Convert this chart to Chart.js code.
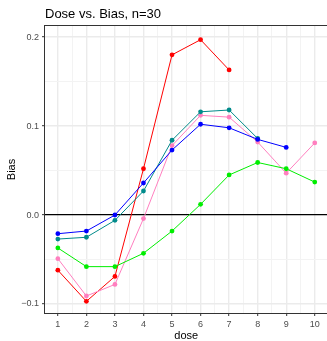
<!DOCTYPE html>
<html>
<head>
<meta charset="utf-8">
<script src="https://cdn.jsdelivr.net/npm/chart.js@4/dist/chart.umd.min.js"></script>
<style>
  html, body { margin: 0; padding: 0; background: #fff; overflow: hidden; }
  #wrap { width: 327px; height: 341px; overflow: hidden; position: relative; }
  canvas { display: block; }
</style>
</head>
<body>
<div id="wrap"><canvas id="c" width="330" height="341"></canvas></div>
<script>
// Dose levels and mean bias per dose for each group
const dose = [1, 2, 3, 4, 5, 6, 7, 8, 9, 10];
const redBias   = [-0.062, -0.097, -0.069, 0.052, 0.180, 0.197, 0.163];
const blueBias  = [-0.021, -0.018, 0.000, 0.036, 0.073, 0.102, 0.098, 0.085, 0.076];
const tealBias  = [-0.027, -0.025, -0.006, 0.027, 0.084, 0.116, 0.118, 0.086];
const pinkBias  = [-0.049, -0.091, -0.078, -0.004, 0.078, 0.112, 0.110, 0.082, 0.047, 0.081];
const greenBias = [-0.037, -0.058, -0.058, -0.043, -0.018, 0.012, 0.045, 0.059, 0.052, 0.037];

const xMajor = [1, 2, 3, 4, 5, 6, 7, 8, 9, 10];
const xMinor = [1.5, 2.5, 3.5, 4.5, 5.5, 6.5, 7.5, 8.5, 9.5];
const yMajor = [-0.1, 0.0, 0.1, 0.2];
const yMajorLabels = ['\u22120.1', '0.0', '0.1', '0.2'];
const yMinor = [-0.05, 0.05, 0.15];

const FONT = "'Liberation Sans', Arial, sans-serif";

function series(values) {
  return values.map((v, i) => ({ x: dose[i], y: v }));
}
function ds(values, color) {
  return {
    data: series(values),
    borderColor: color,
    backgroundColor: color,
    borderWidth: 1,
    pointRadius: 2.4,
    pointHoverRadius: 2.4,
    pointBorderWidth: 0,
    tension: 0
  };
}
const isMajor = (list, v) => list.some(m => Math.abs(m - v) < 1e-9);

// Panel border and plot title
const panelDecor = {
  id: 'panelDecor',
  afterDatasetsDraw(chart) {
    const { ctx, chartArea: a } = chart;
    ctx.save();
    ctx.strokeStyle = '#333333';
    ctx.lineWidth = 1;
    ctx.strokeRect(a.left - 0.5, a.top - 0.5, a.right - a.left + 1, a.bottom - a.top + 1);
    ctx.restore();
  },
  afterDraw(chart) {
    const { ctx, chartArea: a } = chart;
    ctx.save();
    ctx.fillStyle = '#000';
    ctx.font = '13px ' + FONT;
    ctx.textBaseline = 'alphabetic';
    ctx.textAlign = 'left';
    ctx.fillText('Dose vs. Bias, n=30', a.left, 18);
    ctx.restore();
  }
};

new Chart(document.getElementById('c'), {
  type: 'line',
  data: {
    datasets: [
      ds(greenBias, '#00ee00'),
      ds(blueBias, '#0000ff'),
      ds(tealBias, '#008b8b'),
      ds(pinkBias, '#ff7fbf'),
      ds(redBias, '#ff0000')
    ]
  },
  options: {
    responsive: false,
    animation: false,
    layout: { padding: { top: 26, left: 0, right: 1, bottom: 0 } },
    plugins: { legend: { display: false }, tooltip: { enabled: false }, title: { display: false } },
    scales: {
      x: {
        type: 'linear',
        min: 0.55,
        max: 10.45,
        afterBuildTicks: s => { s.ticks = xMajor.concat(xMinor).sort((a, b) => a - b).map(v => ({ value: v })); },
        afterFit: s => { s.height = 28; },
        ticks: {
          autoSkip: false,
          maxRotation: 0,
          padding: 3,
          color: '#4d4d4d',
          font: { family: FONT, size: 9 },
          callback: v => (isMajor(xMajor, v) ? String(v) : '')
        },
        grid: {
          drawTicks: true,
          tickLength: 3,
          tickWidth: 1,
          tickColor: c => (isMajor(xMajor, c.tick.value) ? '#333333' : 'rgba(0,0,0,0)'),
          color: c => (isMajor(xMajor, c.tick.value) ? '#ebebeb' : '#f3f3f3'),
          lineWidth: c => (isMajor(xMajor, c.tick.value) ? 1.4 : 1)
        },
        border: { display: false },
        title: {
          display: true,
          text: 'dose',
          color: '#000',
          font: { family: FONT, size: 11, lineHeight: 0.9 },
          padding: { top: 0, bottom: 0 }
        }
      },
      y: {
        type: 'linear',
        min: -0.1101,
        max: 0.2124,
        afterBuildTicks: s => { s.ticks = yMajor.concat(yMinor).sort((a, b) => a - b).map(v => ({ value: v })); },
        afterFit: s => { s.width = 45; },
        ticks: {
          autoSkip: false,
          padding: 3,
          color: '#4d4d4d',
          font: { family: FONT, size: 9 },
          callback: v => {
            const i = yMajor.findIndex(m => Math.abs(m - v) < 1e-9);
            return i >= 0 ? yMajorLabels[i] : '';
          }
        },
        grid: {
          drawTicks: true,
          tickLength: 3,
          tickWidth: 1,
          tickColor: c => (isMajor(yMajor, c.tick.value) ? '#333333' : 'rgba(0,0,0,0)'),
          color: c => (Math.abs(c.tick.value) < 1e-9 ? '#000000' : (isMajor(yMajor, c.tick.value) ? '#ebebeb' : '#f3f3f3')),
          lineWidth: c => (Math.abs(c.tick.value) < 1e-9 ? 1.3 : (isMajor(yMajor, c.tick.value) ? 1.4 : 1))
        },
        border: { display: false },
        title: {
          display: true,
          text: 'Bias',
          color: '#000',
          font: { family: FONT, size: 11 },
          padding: { top: 5, bottom: 0 }
        }
      }
    }
  },
  plugins: [panelDecor]
});
</script>
</body>
</html>
